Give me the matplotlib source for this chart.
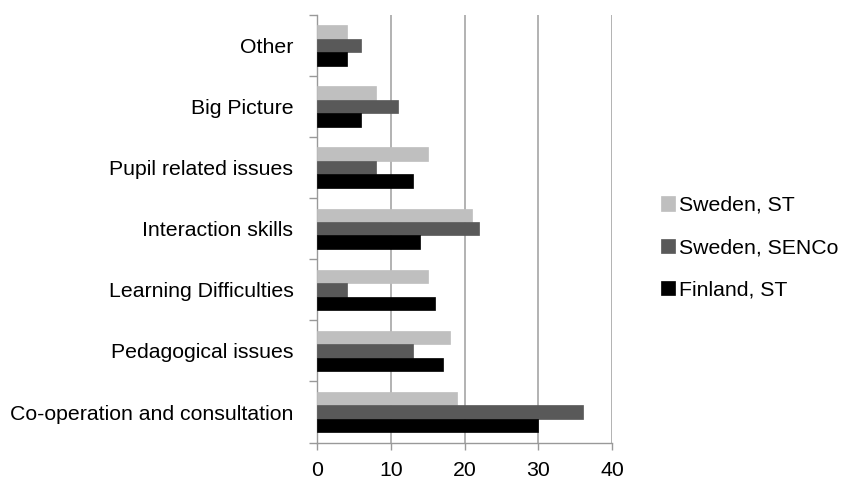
import matplotlib
matplotlib.use("Agg")
import matplotlib.pyplot as plt
import numpy as np

categories = ["Co-operation and consultation", "Pedagogical issues", "Learning Difficulties",
              "Interaction skills", "Pupil related issues", "Big Picture", "Other"]
sweden_st = [19, 18, 15, 21, 15, 8, 4]
sweden_senco = [36, 13, 4, 22, 8, 11, 6]
finland_st = [30, 17, 16, 14, 13, 6, 4]
series_names = ["Sweden, ST", "Sweden, SENCo", "Finland, ST"]
colors = ["#bfbfbf", "#595959", "#000000"]
xticks = [0, 10, 20, 30, 40]

plt.rcParams['font.family'] = ['Liberation Sans', 'DejaVu Sans']

fig = plt.figure(figsize=(8.41, 4.8), dpi=100)
ax = fig.add_axes([0.377, 0.078, 0.351, 0.891])

y = np.arange(len(categories))
h = 0.22
data = [sweden_st, sweden_senco, finland_st]
offsets = [h, 0, -h]
for vals, off, c, name in zip(data, offsets, colors, series_names):
    ax.barh(y + off, vals, height=h, color=c, edgecolor=c, linewidth=0.5, label=name, zorder=3)

fs = 15.3
ax.set_xlim(0, 40)
ax.set_ylim(-0.5, len(categories) - 0.5)
ax.set_xticks(xticks)
ax.set_xticklabels([str(t) for t in xticks], fontsize=fs)
ax.set_yticks(y)
ax.set_yticklabels(categories, fontsize=fs)
ax.tick_params(axis='y', which='major', length=0, pad=17)
ax.set_yticks(np.arange(-0.5, len(categories), 1.0), minor=True)
ax.tick_params(axis='y', which='minor', length=6, color='#999999', width=1)
ax.tick_params(axis='x', length=5, color='#999999', width=1, pad=8)
ax.grid(axis='x', color='#a6a6a6', linewidth=1.2, zorder=0)
for s in ['top', 'right']:
    ax.spines[s].set_visible(False)
for s in ['left', 'bottom']:
    ax.spines[s].set_color('#999999')
    ax.spines[s].set_linewidth(1)

leg = fig.legend(loc='center left', bbox_to_anchor=(0.763, 0.484), frameon=False,
                 fontsize=fs, handlelength=0.66, handleheight=0.66, handletextpad=0.19,
                 labelspacing=1.1)

fig.savefig("out.png", dpi=100)
